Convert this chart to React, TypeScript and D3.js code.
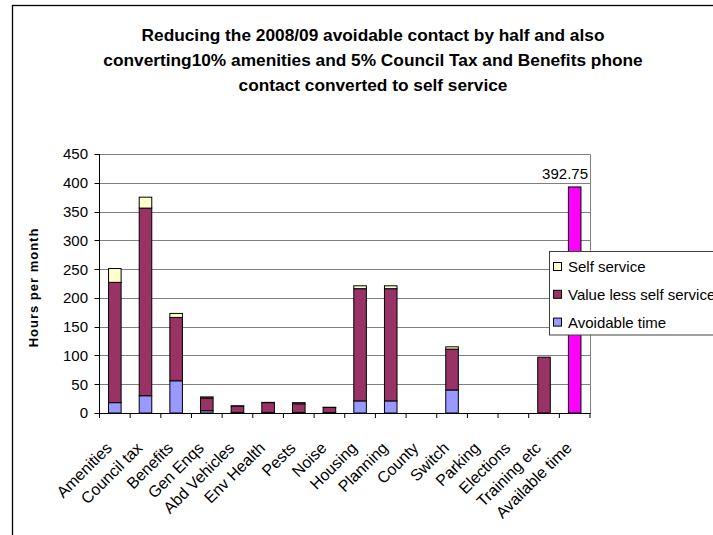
import React from "react";
import * as d3 from "d3";

const categories = [
  "Amenities", "Council tax", "Benefits", "Gen Enqs", "Abd Vehicles", "Env Health",
  "Pests", "Noise", "Housing", "Planning", "County", "Switch", "Parking",
  "Elections", "Training etc", "Available time",
];
const avoidableTime = [18, 30, 56, 4, 1, 1, 1, 1, 21, 21, 0, 40, 0, 0, 0, 0];
const valueLessSelfService = [209, 326, 110, 22, 11, 17, 15, 8.5, 195, 195, 0, 71, 0, 0, 97, 0];
const selfService = [24, 19, 7, 2, 0.5, 0.5, 2, 0.5, 5, 5, 0, 4, 0, 0, 0, 0];
const availableTime = [0, 0, 0, 0, 0, 0, 0, 0, 0, 0, 0, 0, 0, 0, 0, 392.75];
const yTicks = [0, 50, 100, 150, 200, 250, 300, 350, 400, 450];
const titleLines = [
  "Reducing the 2008/09 avoidable contact by half and also",
  "converting10% amenities and 5% Council Tax and Benefits phone",
  "contact converted to self service",
];
const legendItems = [
  { key: "selfService", label: "Self service" },
  { key: "valueLess", label: "Value less self service" },
  { key: "avoidable", label: "Avoidable time" },
];

const colors: Record<string, string> = {
  avoidable: "#9999FF",
  valueLess: "#993366",
  selfService: "#FFFFCC",
  available: "#FF00FF",
};

const FONT = "'Liberation Sans', Arial, sans-serif";

export default function App() {
  const W = 713, H = 535;
  const x0 = 99.5, x1 = 590, yBottom = 413, yTop = 154;

  const rows = categories.map((c, i) => ({
    category: c,
    avoidable: avoidableTime[i],
    valueLess: valueLessSelfService[i],
    selfService: selfService[i],
    available: availableTime[i],
  }));
  const keys = ["avoidable", "valueLess", "selfService", "available"];
  const series = d3.stack<any>().keys(keys)(rows);

  const x = d3.scaleBand<string>().domain(categories).range([x0, x1]).paddingInner(0.59).paddingOuter(0.295);
  const y = d3.scaleLinear().domain([0, 450]).range([yBottom, yTop]);
  const step = x.step();
  const boundaries = d3.range(categories.length + 1).map((i) => x0 + i * step);

  const lastCat = categories[categories.length - 1];
  const lastVal = availableTime[availableTime.length - 1];
  const labelX = Math.min((x(lastCat) ?? 0) + x.bandwidth() / 2 + 22, x1 - 2);

  return (
    <svg width={W} height={H} style={{ position: "absolute", left: 0, top: 0, background: "#fff" }} fontFamily={FONT}>
      <rect x={0} y={0} width={W} height={H} fill="#fff" />
      <rect x={12.5} y={5.5} width={800} height={700} fill="none" stroke="#000" strokeWidth={1.3} />
      {titleLines.map((t, i) => (
        <text key={i} x={373} y={41 + i * 25} textAnchor="middle" fontSize={17.3} fontWeight="bold" fill="#000">
          {t}
        </text>
      ))}
      {/* gridlines */}
      {yTicks.filter((t) => t > 0).map((t) => (
        <line key={t} x1={x0} x2={x1} y1={Math.round(y(t)) + 0.5} y2={Math.round(y(t)) + 0.5} stroke="#808080" strokeWidth={1} />
      ))}
      <line x1={x1 + 0.5} x2={x1 + 0.5} y1={Math.round(y(450)) + 0.5} y2={yBottom} stroke="#808080" strokeWidth={1} />
      {/* bars */}
      {series.map((s) =>
        s.map((d, i) =>
          d[1] - d[0] > 0 ? (
            <rect
              key={s.key + i}
              x={x(categories[i])}
              y={y(d[1])}
              width={x.bandwidth()}
              height={y(d[0]) - y(d[1])}
              fill={colors[s.key]}
              stroke="#000"
              strokeWidth={1}
            />
          ) : null
        )
      )}
      {/* axes */}
      <line x1={x0} x2={x0} y1={yTop} y2={yBottom + 0.5} stroke="#000" strokeWidth={1} />
      <line x1={x0} x2={x1 + 0.5} y1={yBottom + 0.5} y2={yBottom + 0.5} stroke="#000" strokeWidth={1} />
      {yTicks.map((t) => (
        <g key={t}>
          <line x1={x0 - 5} x2={x0} y1={Math.round(y(t)) + 0.5} y2={Math.round(y(t)) + 0.5} stroke="#000" />
          <text x={88} y={y(t)} dy="0.36em" textAnchor="end" fontSize={15} fill="#000">
            {t}
          </text>
        </g>
      ))}
      {boundaries.map((b, i) => (
        <line key={i} x1={b} x2={b} y1={yBottom} y2={yBottom + 5} stroke="#000" />
      ))}
      {categories.map((c) => {
        const cx = (x(c) ?? 0) + x.bandwidth() / 2;
        return (
          <text key={c} transform={`translate(${cx - 2},${yBottom + 36}) rotate(-45)`} textAnchor="end" fontSize={16} fill="#000">
            {c}
          </text>
        );
      })}
      <text
        transform={`translate(38,${(yTop + yBottom) / 2 + 4}) rotate(-90)`}
        textAnchor="middle"
        fontSize={13}
        fontWeight="bold"
        letterSpacing={1}
        fill="#000"
      >
        Hours per month
      </text>
      <text x={labelX} y={y(lastVal) - 8} textAnchor="end" fontSize={15} fill="#000">
        {lastVal}
      </text>
      {/* legend */}
      <g>
        <rect x={549.5} y={251.5} width={220} height={83.5} fill="#fff" stroke="#404040" strokeWidth={1} />
        {legendItems.map((it, i) => (
          <g key={it.key}>
            <rect x={553.5} y={262.5 + i * 27.8} width={8} height={8} fill={colors[it.key]} stroke="#000" strokeWidth={1} />
            <text x={568} y={266.5 + i * 27.8} dy="0.36em" fontSize={15} fill="#000">
              {it.label}
            </text>
          </g>
        ))}
      </g>
    </svg>
  );
}
